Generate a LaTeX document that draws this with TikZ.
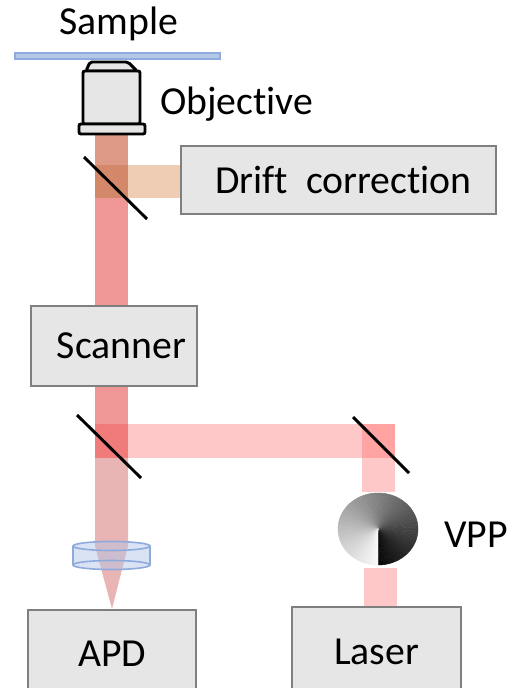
\documentclass[tikz,border=0pt]{standalone}
\usepackage{fontspec}
\setmainfont{Carlito}[Ligatures=NoCommon]
\usetikzlibrary{positioning}

\definecolor{boxfill}{HTML}{E7E6E6}
\definecolor{boxline}{HTML}{7F7F7F}
\definecolor{objfill}{HTML}{E6E6E6}
\definecolor{glass}{HTML}{B4C7E7}
\definecolor{glassline}{HTML}{8FAADC}
\definecolor{exc}{HTML}{FFC8C8}
\definecolor{excx}{HTML}{FFA3A3}
\definecolor{mixed}{HTML}{EF9797}
\definecolor{mixedx}{HTML}{F07B7B}
\definecolor{fluo}{HTML}{E8B4B4}
\definecolor{drift}{HTML}{EECDB4}
\definecolor{driftmix}{HTML}{DE9A86}
\definecolor{driftx}{HTML}{D4886A}

\tikzset{
  box/.style={draw=boxline, fill=boxfill, line width=2.2pt, inner sep=0pt},
  mirror/.style={draw=black, line width=2.2pt},
  optic/.style={draw=black, fill=objfill, line width=2.2pt, rounded corners=1.5pt},
  lbl/.style={inner sep=0pt, anchor=base}
}

\begin{document}
\begin{tikzpicture}[x=0.75pt, y=-0.75pt, font=\fontsize{29.8pt}{36pt}\selectfont]
  \useasboundingbox (0,0) rectangle (511,688);

  % beams
  \fill[mixed]    (95,134) rectangle (128,458);
  \fill[driftmix] (95,134) rectangle (128,165);
  \fill[driftx]   (95,165) rectangle (128,198);
  \fill[drift]    (128,165) rectangle (181,198);
  \fill[exc]      (128,424) rectangle (395,458);
  \fill[exc]      (362,458) rectangle (395,492);
  \fill[excx]     (362,424) rectangle (395,458);
  \fill[exc]      (364,568) rectangle (397,607);
  \fill[mixedx]   (95,424) rectangle (128,458);
  \fill[fluo]     (95,458) -- (95,546) -- (112,609) -- (128,546) -- (128,458) -- cycle;

  % sample and objective
  \filldraw[fill=glass, draw=glassline, line width=0.8pt] (15,53) rectangle (220,59);
  \filldraw[optic] (86,71) -- (90,62) -- (128,62) -- (137,71) -- cycle;
  \filldraw[optic] (83,71) rectangle (140,124);
  \filldraw[optic] (79,124) rectangle (145,134);

  % boxes
  \node[box, minimum width=236.25pt, minimum height=51pt] (driftbox) at (338.5,180) {\hspace*{7.5pt}Drift~~correction};
  \node[box, minimum width=124.5pt, minimum height=60pt] (scanner) at (114,346) {\hspace*{11pt}Scanner};
  \node[box, minimum width=126pt, minimum height=66pt] (apd) at (112,654) {APD};
  \node[box, minimum width=126.75pt, minimum height=67.5pt] (laser) at (376.5,652) {Laser};

  % mirrors
  \draw[mirror] (84,157) -- (147,219);
  \draw[mirror] (77,415) -- (141,478);
  \draw[mirror] (353,417) -- (409,473);

  % lens in front of the APD
  \fill[glass, fill opacity=0.5] (73,565) arc[start angle=180, end angle=0, x radius=38.5, y radius=4.5]
    -- (150,546) arc[start angle=0, end angle=-180, x radius=38.5, y radius=4.5] -- cycle;
  \draw[glassline, line width=1.2pt] (111.5,546) ellipse[x radius=38.5, y radius=4.5];
  \draw[glassline, line width=1.2pt] (111.5,565) ellipse[x radius=38.5, y radius=4.5];
  \draw[glassline, line width=1.2pt] (73,546) -- (73,565) (150,546) -- (150,565);

  % vortex phase plate
  \fill[white] (337,492) rectangle (418,568);
  \begin{scope}[shift={(378,529)}, yscale=-1]
    \foreach \a [evaluate=\a as \p using {97-(\a+91.5)/3.8}] in {-90,-87,...,267}
      \filldraw[black!\p, line width=0.3pt] (0,0) -- (\a:40 and 36)
        arc[start angle=\a, end angle=\a+3, x radius=40, y radius=36] -- cycle;
  \end{scope}

  % labels
  \node[lbl] (sample) at (119,35) {Sample};
  \node[lbl, anchor=base west] (objective) at (160,115) {Objective};
  \node[lbl, anchor=base west] (vpp) at (444,547) {VPP};
\end{tikzpicture}
\end{document}
